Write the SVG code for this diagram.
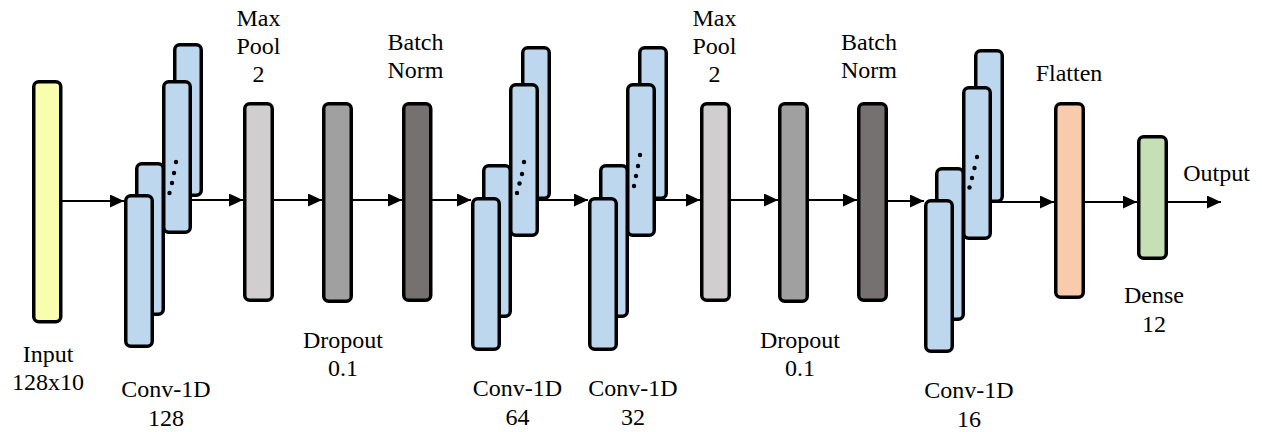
<svg xmlns="http://www.w3.org/2000/svg" width="1262" height="432" viewBox="0 0 1262 432">
<style>
.n{stroke:#000;stroke-width:3.5}
.in{fill:#F9FDAE}
.cv{fill:#BDD7EE}
.mp{fill:#D0CECE}
.dp{fill:#A0A0A0}
.bn{fill:#767171}
.fl{fill:#F8CBAD}
.de{fill:#C5E0B4}
.t{font-family:'Liberation Serif','DejaVu Serif',serif;font-size:24px;fill:#000;text-anchor:middle}
.c{stroke:#000;stroke-width:1.8;fill:none;marker-end:url(#ah)}
</style>
<defs>
<marker id="ah" markerUnits="userSpaceOnUse" markerWidth="15" markerHeight="14" refX="14" refY="6.5" orient="auto">
<path d="M0,0 L14,6.5 L0,13 Z" fill="#000"/>
</marker>
</defs>
<rect width="1262" height="432" fill="#fff"/>

<g id="input">
<rect class="n in" x="33.75" y="81.75" width="27" height="240" rx="5"/>
<text class="t" x="48" y="362" font-family="Liberation Serif, serif">Input</text>
<text class="t" x="48" y="390" font-family="Liberation Serif, serif">128x10</text>
</g>

<g id="conv1">
<rect class="n cv" x="174.75" y="44.75" width="26.5" height="150.5" rx="5"/>
<rect class="n cv" x="163.75" y="81.75" width="26.5" height="150.5" rx="5"/>
<rect class="n cv" x="136.75" y="163.75" width="26.5" height="150.5" rx="5"/>
<rect class="n cv" x="125.75" y="195.75" width="26.5" height="150.5" rx="5"/>
<circle cx="176" cy="162" r="2.2"/><circle cx="174" cy="173" r="2.2"/><circle cx="172" cy="183" r="2.2"/><circle cx="169.5" cy="193" r="2.2"/>
<text class="t" x="166" y="397">Conv-1D</text>
<text class="t" x="166" y="426">128</text>
</g>

<g id="maxpool1">
<rect class="n mp" x="244.75" y="103.75" width="27.5" height="196.5" rx="5"/>
<text class="t" x="258.5" y="26">Max</text>
<text class="t" x="258.5" y="54">Pool</text>
<text class="t" x="258.5" y="82">2</text>
</g>

<g id="dropout1">
<rect class="n dp" x="323.75" y="103.75" width="27.5" height="197.5" rx="5"/>
<text class="t" x="343" y="348">Dropout</text>
<text class="t" x="343" y="376">0.1</text>
</g>

<g id="batchnorm1">
<rect class="n bn" x="403.75" y="103.75" width="27" height="196.5" rx="5"/>
<text class="t" x="415.5" y="50">Batch</text>
<text class="t" x="415.5" y="78">Norm</text>
</g>

<g id="conv2">
<rect class="n cv" x="522.75" y="47.75" width="26.5" height="150.5" rx="5"/>
<rect class="n cv" x="510.75" y="84.75" width="26.5" height="150.5" rx="5"/>
<rect class="n cv" x="483.75" y="165.75" width="26.5" height="150.5" rx="5"/>
<rect class="n cv" x="472.75" y="198.75" width="26.5" height="150.5" rx="5"/>
<circle cx="524" cy="162" r="2.2"/><circle cx="522" cy="174" r="2.2"/><circle cx="519.5" cy="183.5" r="2.2"/><circle cx="517" cy="193" r="2.2"/>
<text class="t" x="517.5" y="396">Conv-1D</text>
<text class="t" x="517.5" y="425">64</text>
</g>

<g id="conv3">
<rect class="n cv" x="639.75" y="47.75" width="26.5" height="150.5" rx="5"/>
<rect class="n cv" x="627.75" y="84.75" width="26.5" height="150.5" rx="5"/>
<rect class="n cv" x="600.75" y="165.75" width="26.5" height="150.5" rx="5"/>
<rect class="n cv" x="589.75" y="198.75" width="26.5" height="150.5" rx="5"/>
<circle cx="640" cy="155" r="2.2"/><circle cx="638" cy="166" r="2.2"/><circle cx="636" cy="176" r="2.2"/><circle cx="634" cy="186" r="2.2"/>
<text class="t" x="633" y="396">Conv-1D</text>
<text class="t" x="633" y="425">32</text>
</g>

<g id="maxpool2">
<rect class="n mp" x="701.75" y="103.75" width="27.5" height="196.5" rx="5"/>
<text class="t" x="714.5" y="26">Max</text>
<text class="t" x="714.5" y="54">Pool</text>
<text class="t" x="714.5" y="82">2</text>
</g>

<g id="dropout2">
<rect class="n dp" x="779.75" y="103.75" width="27.5" height="197.5" rx="5"/>
<text class="t" x="800" y="348">Dropout</text>
<text class="t" x="800" y="376">0.1</text>
</g>

<g id="batchnorm2">
<rect class="n bn" x="858.75" y="103.75" width="27.5" height="196.5" rx="5"/>
<text class="t" x="869" y="50">Batch</text>
<text class="t" x="869" y="78">Norm</text>
</g>

<g id="conv4">
<rect class="n cv" x="975.75" y="50.75" width="26.5" height="150.5" rx="5"/>
<rect class="n cv" x="963.75" y="87.75" width="26.5" height="150.5" rx="5"/>
<rect class="n cv" x="936.75" y="168.75" width="26.5" height="150.5" rx="5"/>
<rect class="n cv" x="925.75" y="200.75" width="26.5" height="150.5" rx="5"/>
<circle cx="977" cy="157" r="2.2"/><circle cx="974.5" cy="168" r="2.2"/><circle cx="972" cy="178" r="2.2"/><circle cx="969.5" cy="187.5" r="2.2"/>
<text class="t" x="969" y="398">Conv-1D</text>
<text class="t" x="969" y="427">16</text>
</g>

<g id="flatten">
<rect class="n fl" x="1055.75" y="103.75" width="27.5" height="193.5" rx="5"/>
<text class="t" x="1069" y="81">Flatten</text>
</g>

<g id="dense">
<rect class="n de" x="1138.75" y="136.75" width="27.5" height="121.5" rx="5"/>
<text class="t" x="1154" y="303">Dense</text>
<text class="t" x="1154" y="332">12</text>
</g>

<g id="output">
<text class="t" x="1216.5" y="181">Output</text>
</g>

<g id="connectors">
<line class="c" x1="62" y1="201" x2="124" y2="201"/>
<line class="c" x1="192" y1="200" x2="243" y2="200"/>
<line class="c" x1="274" y1="200" x2="322" y2="200"/>
<line class="c" x1="353" y1="200" x2="402" y2="200"/>
<line class="c" x1="432" y1="200" x2="471" y2="200"/>
<line class="c" x1="539" y1="200" x2="588" y2="200"/>
<line class="c" x1="656" y1="200" x2="700" y2="200"/>
<line class="c" x1="731" y1="200" x2="778" y2="200"/>
<line class="c" x1="809" y1="200" x2="857" y2="200"/>
<line class="c" x1="888" y1="201" x2="924" y2="201"/>
<line class="c" x1="992" y1="202" x2="1054" y2="202"/>
<line class="c" x1="1085" y1="202" x2="1137" y2="202"/>
<line class="c" x1="1168" y1="202" x2="1221" y2="202"/>
</g>
</svg>
